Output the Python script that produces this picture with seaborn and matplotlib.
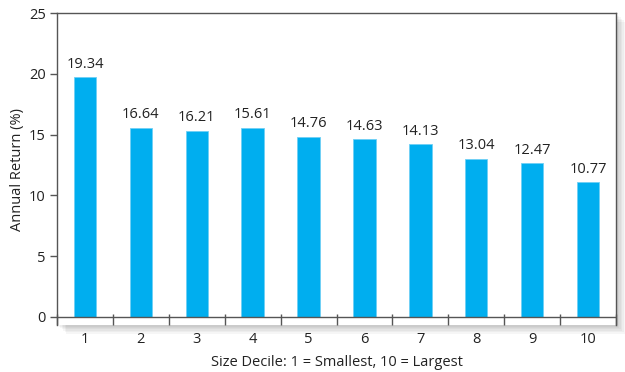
import numpy as np
import pandas as pd
import seaborn as sns
import matplotlib.pyplot as plt
from matplotlib.patches import Rectangle

deciles   = ["1", "2", "3", "4", "5", "6", "7", "8", "9", "10"]
heights   = [19.71, 15.57, 15.30, 15.57, 14.83, 14.61, 14.20, 13.02, 12.64, 11.07]
labels    = ["19.34", "16.64", "16.21", "15.61", "14.76", "14.63", "14.13", "13.04", "12.47", "10.77"]
yticks    = [0, 5, 10, 15, 20, 25]

BAR   = "#00AEEF"
SPINE = "#555555"
TXT   = "#222222"

sns.set_theme(style="white")
plt.rcParams["font.family"] = ["Open Sans", "DejaVu Sans"]

df = pd.DataFrame({"decile": deciles, "ret": heights})

fig = plt.figure(figsize=(6.25, 3.72), dpi=100)
ax = fig.add_axes([0.0912, 0.1263, 0.8944, 0.8387])
ax.set_zorder(2)

# soft drop shadow behind the frame
pos = ax.get_position()
for i in range(6):
    d = (i + 1) * 0.0025
    fig.patches.append(Rectangle((pos.x0 + d, pos.y0 - d * 1.6), pos.width, pos.height,
                                 transform=fig.transFigure, color="black",
                                 alpha=0.035, zorder=0, lw=0))
fig.patches.append(Rectangle((pos.x0, pos.y0), pos.width, pos.height,
                             transform=fig.transFigure, color="white", zorder=0.5, lw=0))
ax.set_facecolor("none")

sns.barplot(data=df, x="decile", y="ret", color=BAR, width=0.4,
            saturation=1, edgecolor="#6fd0f5", linewidth=0.6, ax=ax)

for p, lab in zip(ax.patches, labels):
    ax.annotate(lab, (p.get_x() + p.get_width() / 2, p.get_height()),
                xytext=(0, 4), textcoords="offset points",
                ha="center", va="bottom", fontsize=10.5, color=TXT)

ax.set_xlim(-0.5, 9.5)
ax.set_ylim(-0.66, 25)
ax.set_yticks(yticks)
ax.axhline(0, color=SPINE, lw=1.0, zorder=3)

ax.spines["bottom"].set_visible(False)
for s in ("left", "right", "top"):
    ax.spines[s].set_color(SPINE)
    ax.spines[s].set_linewidth(1.0)

ax.set_xticks(np.arange(-0.5, 10.0, 1.0), minor=True)
ax.tick_params(axis="x", which="major", length=0, pad=5, labelsize=10.5, colors=TXT)
ax.tick_params(axis="x", which="minor", direction="in", length=8, width=1, color=SPINE, bottom=True)
ax.tick_params(axis="y", which="major", direction="out", length=5, width=1, color=SPINE,
               left=True, labelsize=10.5, labelcolor=TXT, pad=3)

ax.set_xlabel("Size Decile: 1 = Smallest, 10 = Largest", fontsize=10.5, color=TXT, labelpad=6)
ax.set_ylabel("Annual Return (%)", fontsize=10.5, color=TXT, labelpad=3)

fig.savefig("out.png", dpi=100)
